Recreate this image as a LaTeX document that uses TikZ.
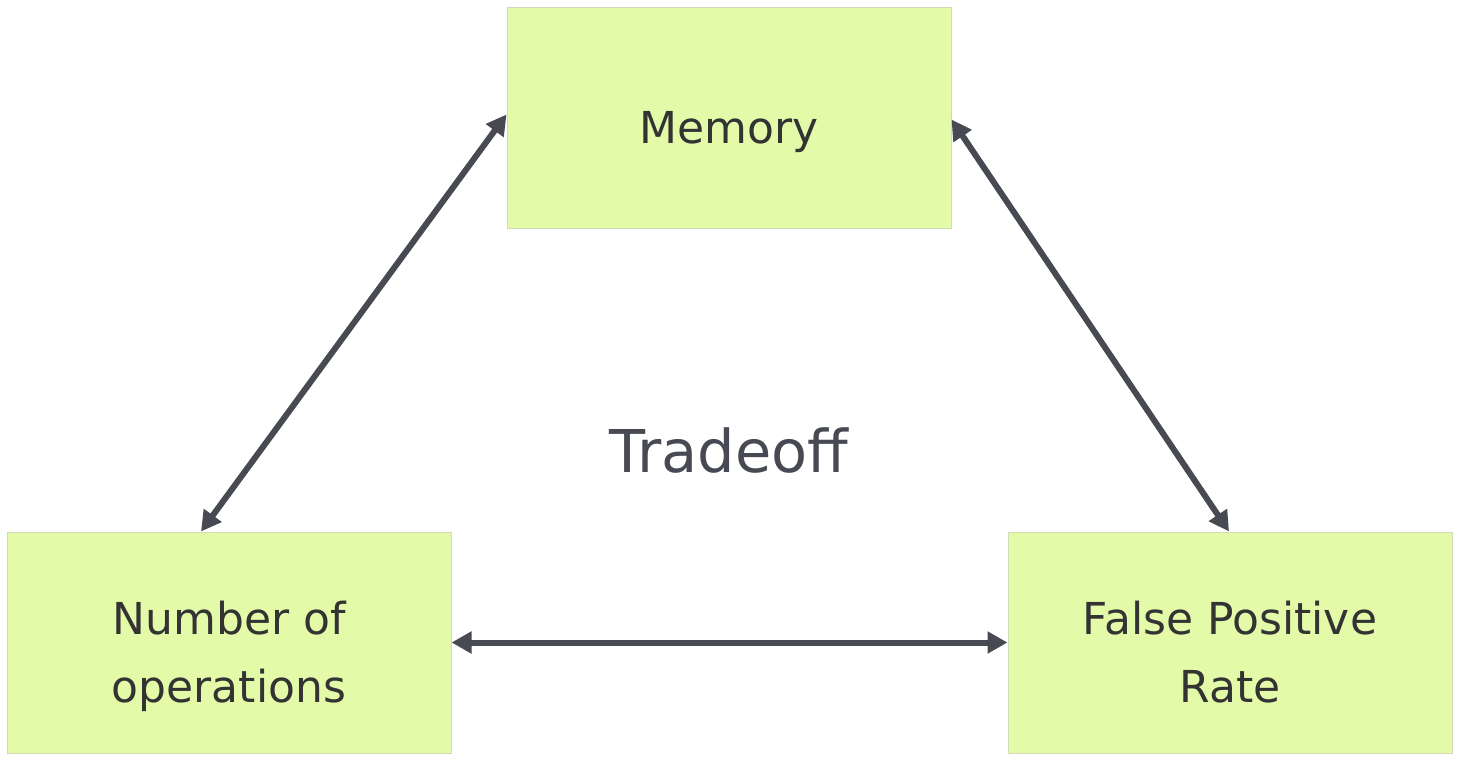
\documentclass[tikz,border=0pt]{standalone}
\usepackage{fontspec}
\setmainfont{DejaVu Sans}
\usetikzlibrary{arrows.meta}
\definecolor{boxfill}{HTML}{E3FBA8}
\definecolor{boxline}{HTML}{D2DAB8}
\definecolor{txt}{HTML}{333333}
\definecolor{arr}{HTML}{474A52}
\tikzset{
  box/.style={draw=boxline, line width=1pt, fill=boxfill, text=txt, minimum width=444pt, minimum height=221pt, inner sep=0pt, align=center, font=\fontsize{44}{68}\selectfont},
  oneline/.style={text height=51pt, text depth=0pt},
  twoline/.style={text height=120pt, text depth=0pt},
  link/.style={draw=arr, line width=6pt, {Triangle[length=20pt,width=21pt]}-{Triangle[length=20pt,width=21pt]}}
}
\begin{document}
\begin{tikzpicture}[x=1pt,y=1pt]
\useasboundingbox (0,0) rectangle (1458,-759);
\node[box, oneline] (mem) at (729,-118.5) {Memory};
\node[box, twoline] (nop) at (229,-642.5) {Number of\\operations};
\node[box, twoline] (fpr) at (1230,-642.5) {False Positive\\Rate};
\node[text=arr, font=\fontsize{59}{72}\selectfont, anchor=base] (tr) at (729,-472) {Tradeoff};
\draw[link] ([yshift=4pt]mem.west) -- ([xshift=-28pt]nop.north);
\draw[link] ([yshift=-1pt]mem.east) -- ([xshift=-1pt]fpr.north);
\draw[link] (nop.east) -- (fpr.west);
\end{tikzpicture}
\end{document}
